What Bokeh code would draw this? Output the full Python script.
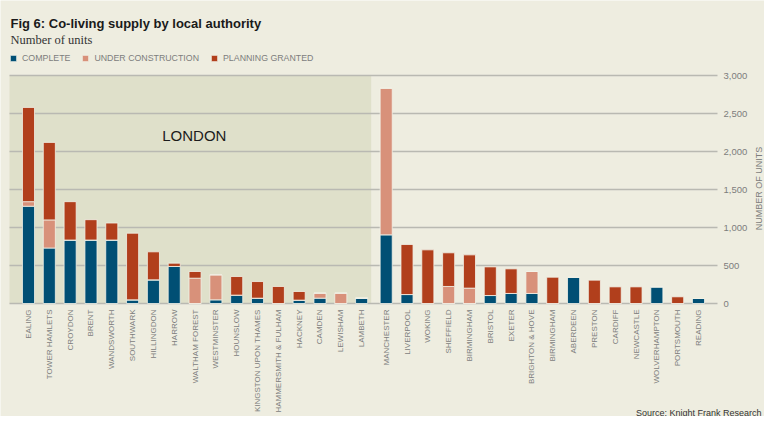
import math
from bokeh.plotting import figure
from bokeh.models import (Range1d, FixedTicker, CustomJSTickFormatter, NumeralTickFormatter,
                          Label, Legend)
from bokeh.embed import file_html
from bokeh.resources import INLINE

# ---------------- data ----------------
authorities = ["EALING", "TOWER HAMLETS", "CROYDON", "BRENT", "WANDSWORTH", "SOUTHWARK",
               "HILLINGDON", "HARROW", "WALTHAM FOREST", "WESTMINSTER", "HOUNSLOW",
               "KINGSTON UPON THAMES", "HAMMERSMITH & FULHAM", "HACKNEY", "CAMDEN",
               "LEWISHAM", "LAMBETH", "MANCHESTER", "LIVERPOOL", "WOKING", "SHEFFIELD",
               "BIRMINGHAM", "BRISTOL", "EXETER", "BRIGHTON & HOVE", "BIRMINGHAM",
               "ABERDEEN", "PRESTON", "CARDIFF", "NEWCASTLE", "WOLVERHAMPTON",
               "PORTSMOUTH", "READING"]
london_count = 17
complete = [1280, 730, 835, 835, 835, 48, 311, 487, 0, 48, 110, 70, 0, 44, 70, 0, 70,
            903, 118, 0, 0, 0, 105, 132, 132, 0, 346, 0, 0, 0, 219, 0, 66]
under_construction = [60, 370, 0, 0, 0, 0, 0, 0, 333, 329, 0, 0, 0, 0, 66, 136, 0,
                      1930, 0, 0, 224, 202, 0, 0, 289, 0, 0, 0, 0, 0, 0, 0, 0]
planning_granted = [1240, 1020, 505, 268, 224, 877, 369, 44, 88, 0, 245, 219, 224, 114, 0, 0, 0,
                    0, 658, 706, 443, 438, 377, 324, 0, 346, 0, 307, 219, 219, 0, 88, 0]
series_labels = ["COMPLETE", "UNDER CONSTRUCTION", "PLANNING GRANTED"]
y_ticks = [0, 500, 1000, 1500, 2000, 2500, 3000]

# ---------------- layout (pixel geometry of the canvas) ----------------
W, H = 764, 416
UNIT = 20.82           # px per category step
X0 = 28                # px of first category centre
Y0 = 303               # px of value 0
PX_PER_UNIT = 0.076    # px per dwelling unit
GAP = 0.18             # extra gap after the London group
PLOT_L, PLOT_R = 9, 717
SHADE_R = 370.7

def px2x(px):
    return (px - X0) / UNIT

def px2y(py):
    return (Y0 - py) / PX_PER_UNIT

positions = [i + (GAP if i >= london_count else 0) for i in range(len(authorities))]

BG = "#eeede0"
SHADE = "#dfe0ca"
C_COMPLETE = "#004f74"
C_UC = "#d8917a"
C_PG = "#b13f1c"
GREY = "#7d7d7d"
GRID = "#b9b9b2"
FONT = "Liberation Sans"

p = figure(width=W, height=H, output_backend="svg", toolbar_location=None,
           x_range=Range1d(px2x(0), px2x(W)), y_range=Range1d(px2y(H), px2y(0)),
           y_axis_location="right",
           min_border_left=0, min_border_right=0, min_border_top=0, min_border_bottom=0)
p.background_fill_color = BG
p.border_fill_color = BG
p.outline_line_color = None
p.xgrid.visible = False
p.ygrid.visible = False

y_top = y_ticks[-1]

# London shading
p.quad(left=px2x(PLOT_L), right=px2x(SHADE_R), bottom=0, top=y_top,
       fill_color=SHADE, line_color=None)

# horizontal grid lines at the y ticks
p.segment(x0=[px2x(PLOT_L)] * len(y_ticks), x1=[px2x(PLOT_R)] * len(y_ticks),
          y0=y_ticks, y1=y_ticks, line_color=GRID, line_width=1.3)

# stacked bars
source = dict(x=positions, complete=complete, uc=under_construction, pg=planning_granted)
rs = p.vbar_stack(["complete", "uc", "pg"], x="x", width=0.58, source=source,
                  fill_color=[C_COMPLETE, C_UC, C_PG], line_color="#f3f2e8", line_width=0.8)

legend = Legend(items=[(lab, [r]) for lab, r in zip(series_labels, rs)],
                orientation="horizontal", location=(PLOT_L, H - 63),
                glyph_width=8, glyph_height=8, label_height=8, label_width=0,
                label_standoff=5, spacing=11, padding=0, margin=0,
                border_line_color=None, background_fill_alpha=0,
                label_text_font=FONT, label_text_font_size="8.8px", label_text_color=GREY)
p.add_layout(legend, "center")

# x axis (category names), pinned at value 0
xa = p.xaxis[0]
xa.fixed_location = 0
xa.ticker = FixedTicker(ticks=positions)
xa.formatter = CustomJSTickFormatter(args=dict(names=authorities), code="return names[index];")
xa.major_label_orientation = math.pi / 2
xa.major_label_text_font = FONT
xa.major_label_text_font_size = "8px"
xa.major_label_text_color = GREY
xa.major_label_standoff = 6
xa.major_tick_line_color = None
xa.minor_tick_line_color = None
xa.major_tick_out = 0
xa.major_tick_in = 0
xa.axis_line_color = None

# y axis on the right edge of the plotting area
ya = p.yaxis[0]
ya.fixed_location = px2x(PLOT_R)
ya.ticker = FixedTicker(ticks=y_ticks)
ya.formatter = NumeralTickFormatter(format="0,0")
ya.major_label_text_font = FONT
ya.major_label_text_font_size = "9.5px"
ya.major_label_text_color = GREY
ya.major_label_standoff = 6
ya.major_tick_line_color = None
ya.minor_tick_line_color = None
ya.major_tick_out = 0
ya.major_tick_in = 0
ya.axis_line_color = None

# texts
def add_text(text, px, py, size, color, font=FONT, style="normal", align="left",
             baseline="alphabetic", angle=0):
    p.add_layout(Label(x=px2x(px), y=px2y(py), text=text, text_font=font,
                       text_font_size=size, text_color=color, text_font_style=style,
                       text_align=align, text_baseline=baseline, angle=angle))

add_text("Fig 6: Co-living supply by local authority", 10, 22.7, "13px", "#1a1a1a", style="bold")
add_text("Number of units", 10, 39.3, "12.5px", "#333333", font="Liberation Serif")
add_text("LONDON", 193.8, 135.3, "15px", "#1c1c1c", align="center")
add_text("NUMBER OF UNITS", 758, 188, "9px", GREY, align="center", baseline="middle",
         angle=math.pi / 2)
add_text("Source: Knight Frank Research", 761, 412, "9px", "#333333", align="right")

open("out.html", "w").write(file_html(p, INLINE))
